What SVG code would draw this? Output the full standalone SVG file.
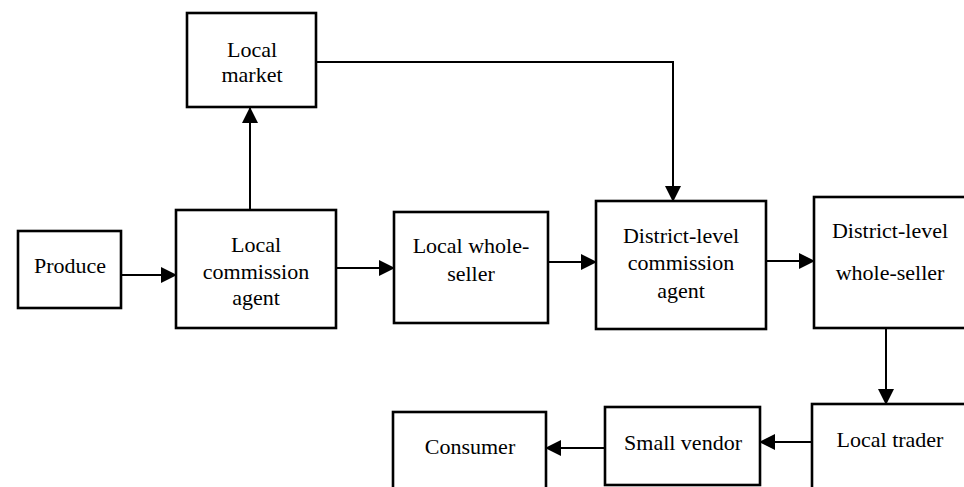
<svg xmlns="http://www.w3.org/2000/svg" width="964" height="487" viewBox="0 0 964 487">
<style>
.box{fill:#fff;stroke:#000;stroke-width:2.6}
.lbl{font-family:'Liberation Serif','DejaVu Serif','Times New Roman',serif;font-size:22px;fill:#000;text-anchor:middle}
.con{fill:none;stroke:#000;stroke-width:2}
</style>
<defs>
<marker id="ah" markerUnits="userSpaceOnUse" markerWidth="16" markerHeight="16" viewBox="0 0 16 16" refX="15" refY="8" orient="auto">
<path d="M0,0 L16,8 L0,16 Z" fill="#000"/>
</marker>
</defs>
<rect width="964" height="487" fill="#fff"/>
<g id="connectors">
<line class="con" x1="250" y1="210" x2="250" y2="108" marker-end="url(#ah)"/>
<line class="con" x1="121" y1="275" x2="176" y2="275" marker-end="url(#ah)"/>
<line class="con" x1="336" y1="268" x2="394" y2="268" marker-end="url(#ah)"/>
<line class="con" x1="548" y1="262" x2="596" y2="262" marker-end="url(#ah)"/>
<polyline class="con" points="316,62 673,62 673,201" marker-end="url(#ah)"/>
<line class="con" x1="766" y1="261" x2="814" y2="261" marker-end="url(#ah)"/>
<line class="con" x1="886" y1="328" x2="886" y2="404" marker-end="url(#ah)"/>
<line class="con" x1="812" y1="442" x2="760" y2="442" marker-end="url(#ah)"/>
<line class="con" x1="605" y1="448" x2="546" y2="448" marker-end="url(#ah)"/>
</g>
<g font-family="Liberation Serif, DejaVu Serif, serif">
<g id="local-market">
<rect class="box" x="187" y="13" width="129" height="94"/>
<text class="lbl" x="252" y="57">Local</text>
<text class="lbl" x="252" y="82">market</text>
</g>
<g id="produce">
<rect class="box" x="18" y="231" width="103" height="77"/>
<text class="lbl" x="70" y="273">Produce</text>
</g>
<g id="local-commission-agent">
<rect class="box" x="176" y="210" width="160" height="118"/>
<text class="lbl" x="256" y="252">Local</text>
<text class="lbl" x="256" y="279">commission</text>
<text class="lbl" x="256" y="305">agent</text>
</g>
<g id="local-whole-seller">
<rect class="box" x="394" y="212" width="154" height="111"/>
<text class="lbl" x="471" y="253">Local whole-</text>
<text class="lbl" x="471" y="281">seller</text>
</g>
<g id="district-commission-agent">
<rect class="box" x="596" y="201" width="170" height="128"/>
<text class="lbl" x="681" y="243">District-level</text>
<text class="lbl" x="681" y="270">commission</text>
<text class="lbl" x="681" y="298">agent</text>
</g>
<g id="district-whole-seller">
<rect class="box" x="814" y="197" width="160" height="131"/>
<text class="lbl" x="890" y="238">District-level</text>
<text class="lbl" x="890" y="280">whole-seller</text>
</g>
<g id="local-trader">
<rect class="box" x="812" y="404" width="160" height="100"/>
<text class="lbl" x="890" y="447">Local trader</text>
</g>
<g id="small-vendor">
<rect class="box" x="605" y="407" width="155" height="78"/>
<text class="lbl" x="683" y="450">Small vendor</text>
</g>
<g id="consumer">
<rect class="box" x="393" y="412" width="153" height="90"/>
<text class="lbl" x="470" y="454">Consumer</text>
</g>
</g>
</svg>
